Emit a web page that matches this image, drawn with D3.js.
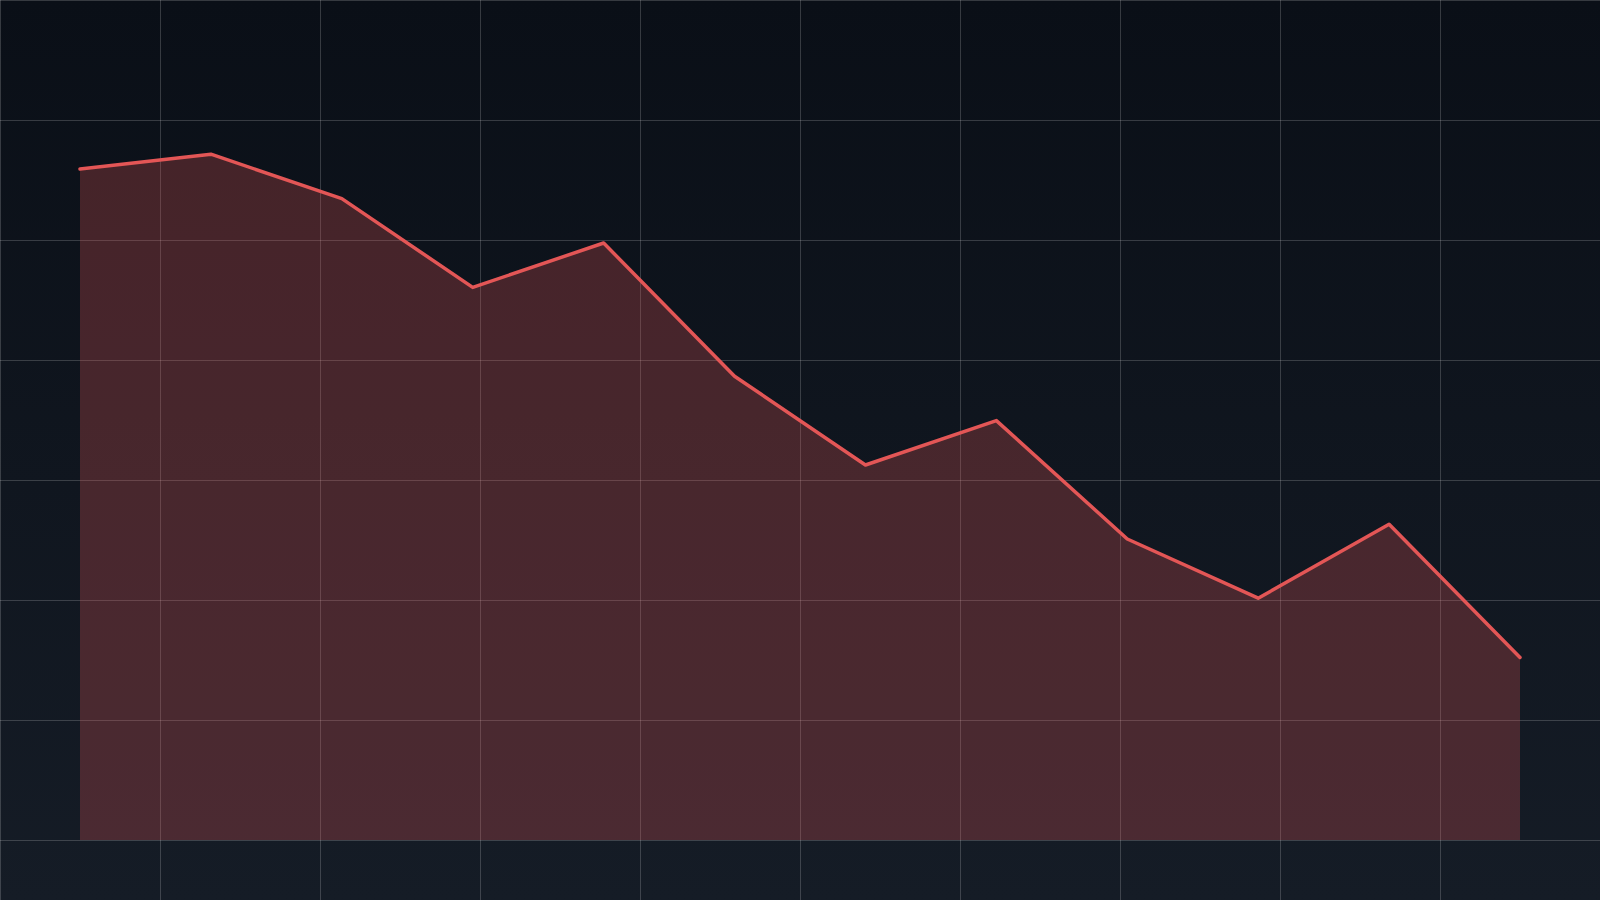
<!DOCTYPE html>
<html>
<head>
<meta charset="utf-8">
<script src="https://cdn.jsdelivr.net/npm/d3@7"></script>
<style>
  html, body { margin: 0; padding: 0; background: #0b1018; overflow: hidden; }
  svg { display: block; }
</style>
</head>
<body>
<div id="chart"></div>
<script>
// twelve points, no labels shown on the chart
var points = ["1", "2", "3", "4", "5", "6", "7", "8", "9", "10", "11", "12"];
var values = [45, 46, 43, 37, 40, 31, 25, 28, 20, 16, 21, 12];

var width = 1600,
    height = 900,
    bottom = 840;

var svg = d3.select("#chart").append("svg")
    .attr("width", width)
    .attr("height", height);

var defs = svg.append("defs");
var grad = defs.append("linearGradient")
    .attr("id", "bg")
    .attr("x1", 0).attr("y1", 0).attr("x2", 0).attr("y2", 1);
grad.append("stop").attr("offset", "0%").attr("stop-color", "#0a0f17");
grad.append("stop").attr("offset", "100%").attr("stop-color", "#151c26");

svg.append("rect")
    .attr("width", width)
    .attr("height", height)
    .attr("fill", "url(#bg)");

// background grid
var gx = d3.scaleLinear().domain([0, 10]).range([0, width]),
    gy = d3.scaleLinear().domain([0, 7]).range([0, bottom]);

var grid = svg.append("g")
    .attr("stroke", "#ffffff")
    .attr("stroke-opacity", 0.18)
    .attr("stroke-width", 1);

grid.selectAll(".vline")
    .data(d3.range(0, 11))
    .enter().append("line")
    .attr("x1", function(d) { return gx(d) + 0.5; })
    .attr("x2", function(d) { return gx(d) + 0.5; })
    .attr("y1", 0)
    .attr("y2", height);

grid.selectAll(".hline")
    .data(d3.range(0, 8))
    .enter().append("line")
    .attr("x1", 0)
    .attr("x2", width)
    .attr("y1", function(d) { return gy(d) + 0.5; })
    .attr("y2", function(d) { return gy(d) + 0.5; });

var xScale = d3.scalePoint().domain(points).range([80, 1520]),
    yScale = d3.scaleLinear().domain([0, 50]).range([835, 95]);

var area = d3.area()
    .x(function(d, i) { return xScale(points[i]); })
    .y0(bottom)
    .y1(function(d) { return yScale(d); });

var line = d3.line()
    .x(function(d, i) { return xScale(points[i]); })
    .y(function(d) { return yScale(d); });

svg.append("path")
    .datum(values)
    .attr("d", area)
    .attr("fill", "#e05555")
    .attr("fill-opacity", 0.27);

svg.append("path")
    .datum(values)
    .attr("d", line)
    .attr("fill", "none")
    .attr("stroke", "#e35656")
    .attr("stroke-width", 3.5)
    .attr("stroke-linejoin", "round")
    .attr("stroke-linecap", "round");
</script>
</body>
</html>
